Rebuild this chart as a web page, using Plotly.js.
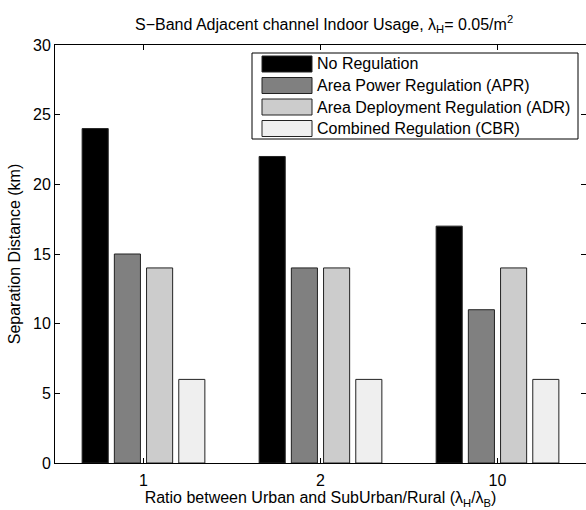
<!DOCTYPE html>
<html>
<head>
<meta charset="utf-8">
<script src="https://cdn.plot.ly/plotly-3.0.1.min.js"></script>
<style>html,body{margin:0;padding:0;background:#fff;}#chart{width:586px;height:510px;}</style>
</head>
<body>
<div id="chart"></div>
<script>
// ---- data ----
const categories = ['1', '2', '10'];
const seriesNames = ['No Regulation', 'Area Power Regulation (APR)', 'Area Deployment Regulation (ADR)', 'Combined Regulation (CBR)'];
const noRegulation = [24, 22, 17];
const areaPower = [15, 14, 11];
const areaDeployment = [14, 14, 14];
const combined = [6, 6, 6];
const yTicks = [0, 5, 10, 15, 20, 25, 30];

// ---- styling ----
const colors = ['#000000', '#808080', '#cccccc', '#efefef'];
const FONT = 'Liberation Sans, Arial, Helvetica, sans-serif';
const FS = 16;
const W = 586, H = 510;
const M = {l: 55, r: 0, t: 45, b: 47};
const PW = W - M.l - M.r, PH = H - M.t - M.b;
const px = x => (x - M.l) / PW;
const py = y => 1 - (y - M.t) / PH;

const seriesValues = [noRegulation, areaPower, areaDeployment, combined];
const traces = seriesValues.map((vals, i) => ({
  type: 'bar',
  x: categories,
  y: vals,
  name: seriesNames[i],
  marker: {color: colors[i], line: {color: '#222', width: 1}},
  showlegend: false,
  hoverinfo: 'x+y+name'
}));

// custom legend (MATLAB style wide swatches)
const shapes = [{
  type: 'rect', xref: 'paper', yref: 'paper',
  x0: px(252), x1: px(578), y0: py(53), y1: py(139),
  line: {color: '#000', width: 1}, fillcolor: '#fff', layer: 'above'
}];
const annotations = [];
const rowY = [64, 85.5, 107, 128.5];
seriesNames.forEach((n, i) => {
  shapes.push({
    type: 'rect', xref: 'paper', yref: 'paper',
    x0: px(262), x1: px(312), y0: py(rowY[i] - 8), y1: py(rowY[i] + 8),
    line: {color: '#222', width: 1}, fillcolor: colors[i], layer: 'above'
  });
  annotations.push({
    xref: 'paper', yref: 'paper', x: px(315), y: py(rowY[i]),
    xanchor: 'left', yanchor: 'middle', showarrow: false,
    text: n, font: {family: FONT, size: FS, color: '#000'}
  });
});

const layout = {
  width: W, height: H,
  margin: M,
  paper_bgcolor: '#fff', plot_bgcolor: '#fff',
  font: {family: FONT, size: FS, color: '#000'},
  title: {
    text: 'S\u2212Band Adjacent channel Indoor Usage, \u03bb<sub>H</sub>= 0.05/m<sup>2</sup>',
    font: {family: FONT, size: FS, color: '#000'},
    x: 0.553, xanchor: 'center', y: 1 - 24 / H, yanchor: 'middle'
  },
  barmode: 'group',
  bargap: 0.272,
  bargroupgap: 0.19,
  xaxis: {
    type: 'category', range: [-0.5, 2.5],
    ticks: 'inside', ticklen: 5, tickcolor: '#000',
    showline: true, linecolor: '#000', linewidth: 1, mirror: 'allticks',
    showgrid: false, zeroline: false,
    ticklabelstandoff: 3,
    tickfont: {family: FONT, size: FS, color: '#000'},
    title: {text: 'Ratio between Urban and SubUrban/Rural (\u03bb<sub>H</sub>/\u03bb<sub>B</sub>)',
            font: {family: FONT, size: FS, color: '#000'}, standoff: 3},
    automargin: false
  },
  yaxis: {
    range: [0, 30], tickvals: yTicks,
    ticks: 'inside', ticklen: 5, tickcolor: '#000',
    showline: true, linecolor: '#000', linewidth: 1, mirror: 'allticks',
    showgrid: false, zeroline: false,
    tickfont: {family: FONT, size: FS, color: '#000'},
    title: {text: 'Separation Distance (km)', font: {family: FONT, size: FS, color: '#000'}, standoff: 8},
    automargin: false
  },
  shapes: shapes,
  annotations: annotations
};

Plotly.newPlot('chart', traces, layout, {displayModeBar: false, staticPlot: true});
</script>
</body>
</html>
